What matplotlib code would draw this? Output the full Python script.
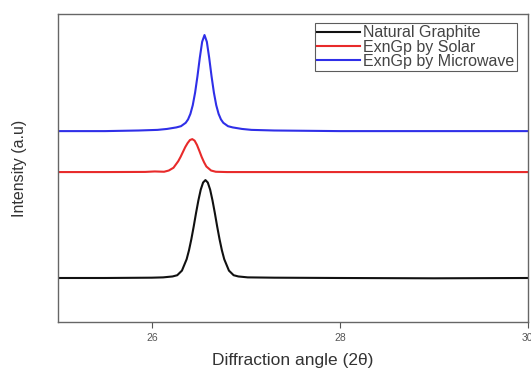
import matplotlib
matplotlib.use("Agg")
import matplotlib.pyplot as plt

plt.rcParams['font.family'] = ['Liberation Sans', 'DejaVu Sans']

# XRD patterns (2theta, intensity in arbitrary units)
graphite_x = [25.0, 25.5, 26.0, 26.12, 26.22, 26.27, 26.32, 26.37, 26.395, 26.42, 26.445,
              26.47, 26.495, 26.52, 26.545, 26.57, 26.595, 26.62, 26.645, 26.67, 26.695,
              26.72, 26.745, 26.77, 26.82, 26.87, 26.92, 27.02, 27.3, 28.0, 29.0, 30.0]
graphite_y = [14.3, 14.3, 14.4, 14.5, 14.8, 15.2, 16.7, 20.4, 23.3, 26.9, 31.0,
              35.4, 39.5, 43.0, 45.3, 46.1, 45.3, 43.0, 39.5, 35.4, 31.0,
              26.9, 23.3, 20.4, 16.7, 15.2, 14.8, 14.5, 14.4, 14.3, 14.2, 14.3]

solar_x = [25.0, 25.5, 25.93, 26.03, 26.13, 26.18, 26.23, 26.28, 26.305, 26.33, 26.355,
           26.38, 26.405, 26.43, 26.455, 26.48, 26.505, 26.53, 26.555, 26.58, 26.63,
           26.68, 26.8, 27.5, 28.5, 30.0]
solar_y = [48.7, 48.7, 48.75, 48.9, 48.8, 49.2, 50.1, 52.2, 53.6, 55.2, 56.8,
           58.1, 59.1, 59.4, 58.9, 57.5, 55.6, 53.6, 51.9, 50.5, 49.2,
           48.8, 48.7, 48.7, 48.7, 48.7]

micro_x = [25.0, 25.5, 25.86, 26.06, 26.16, 26.26, 26.31, 26.36, 26.385, 26.41, 26.435,
           26.46, 26.485, 26.51, 26.535, 26.56, 26.585, 26.61, 26.635, 26.66, 26.685,
           26.71, 26.735, 26.76, 26.81, 26.86, 26.96, 27.06, 27.3, 28.0, 29.0, 30.0]
micro_y = [62.0, 62.0, 62.2, 62.4, 62.7, 63.2, 63.6, 64.7, 65.8, 67.6, 70.4,
           74.5, 79.8, 85.8, 91.0, 93.2, 91.0, 85.8, 79.8, 74.5, 70.4,
           67.6, 65.8, 64.7, 63.6, 63.2, 62.7, 62.4, 62.2, 62.0, 62.0, 62.0]

labels = ["Natural Graphite", "ExnGp by Solar", "ExnGp by Microwave"]
colors = ["#111111", "#e82a2a", "#2f2fe8"]

fig = plt.figure(figsize=(5.31, 3.71), dpi=100)
ax = fig.add_axes([0.109, 0.132, 0.885, 0.830])

for xs, ys, lab, c in zip([graphite_x, solar_x, micro_x], [graphite_y, solar_y, micro_y], labels, colors):
    ax.plot(xs, ys, color=c, lw=1.5, label=lab)

ax.set_xlim(25, 30)
ax.set_ylim(0, 100)
ax.set_xticks([26, 28, 30])
ax.set_yticks([])
ax.tick_params(axis='x', direction='out', length=4, width=0.8, color='#555555',
               labelsize=7.5, labelcolor='#555555', pad=4)
for s in ax.spines.values():
    s.set_color('#666666')
    s.set_linewidth(1.0)

ax.set_xlabel("Diffraction angle (2\u03b8)", fontsize=12.5, color='#333333', labelpad=7)
ax.set_ylabel("Intensity (a.u)", fontsize=11.5, color='#333333', labelpad=22)

leg = ax.legend(loc='upper right', bbox_to_anchor=(0.977, 0.971), borderaxespad=0,
                fontsize=11.5, frameon=True, fancybox=False, handlelength=2.7,
                labelspacing=-0.05, handletextpad=0.2, borderpad=0.15)
leg.get_frame().set_edgecolor('#333333')
leg.get_frame().set_linewidth(0.8)
for t in leg.get_texts():
    t.set_color('#444444')

fig.savefig("out.png", dpi=100)
